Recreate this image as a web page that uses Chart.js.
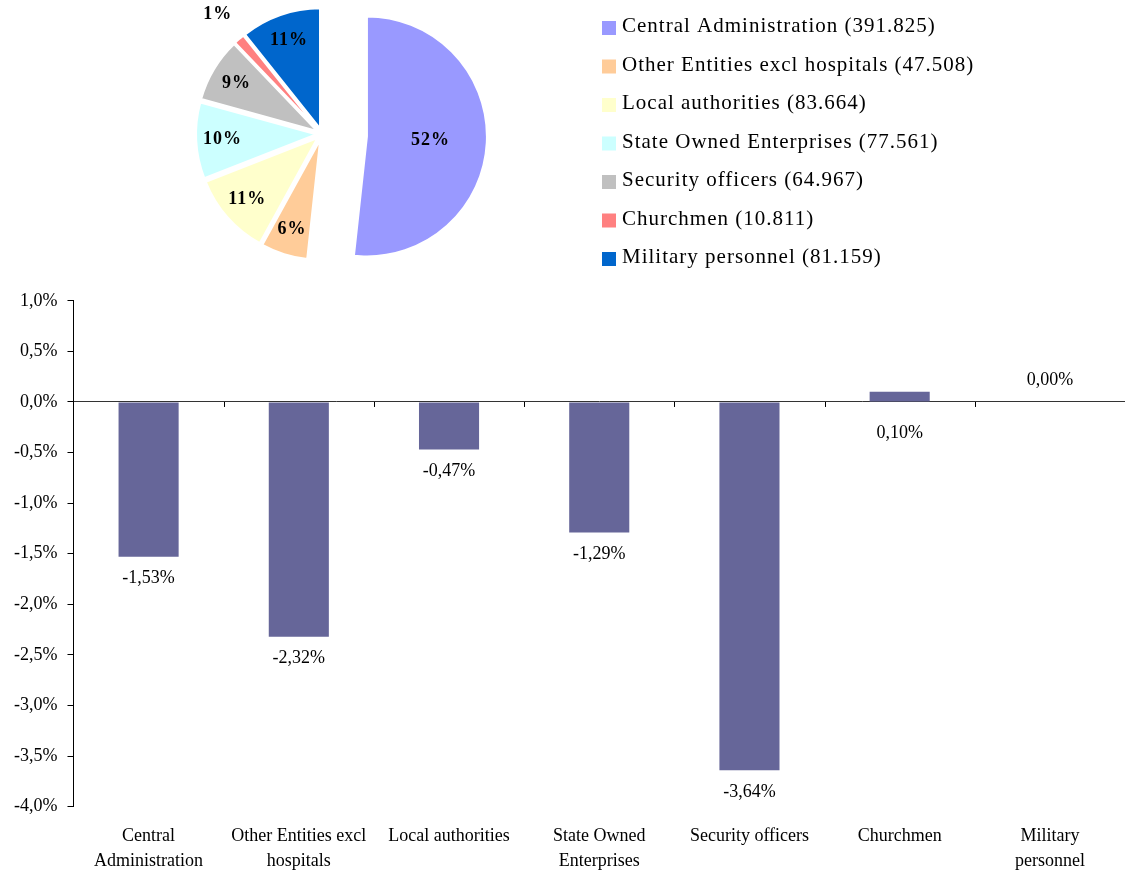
<!DOCTYPE html>
<html>
<head>
<meta charset="utf-8">
<script src="https://cdn.jsdelivr.net/npm/chart.js@4"></script>
<style>
  html, body { margin: 0; background: #fff; overflow: hidden; }
  #wrap { position: relative; width: 1125px; height: 872px; overflow: hidden; }
  canvas { position: absolute; left: 0; }
  #pie { top: 0; }
  #bars { top: 280px; }
</style>
</head>
<body>
<div id="wrap">
  <canvas id="pie" width="1125" height="272"></canvas>
  <canvas id="bars" width="1125" height="611"></canvas>
</div>
<script>
const categories = ['Central Administration', 'Other Entities excl hospitals', 'Local authorities', 'State Owned Enterprises', 'Security officers', 'Churchmen', 'Military personnel'];
const axisLabels = [['Central', 'Administration'], ['Other Entities excl', 'hospitals'], 'Local authorities', ['State Owned', 'Enterprises'], 'Security officers', 'Churchmen', ['Military', 'personnel']];
const employees = [391825, 47508, 83664, 77561, 64967, 10811, 81159];
const changePct = [-1.53, -2.32, -0.47, -1.29, -3.64, 0.10, 0.00];
const pieColors = ['#9999FF', '#FFCC99', '#FFFFCC', '#CCFFFF', '#C0C0C0', '#FF8080', '#0066CC'];

const serif = "'Liberation Serif', 'Times New Roman', serif";
const fmtThousands = n => String(n).replace(/\B(?=(\d{3})+(?!\d))/g, '.');
const total = employees.reduce((a, b) => a + b, 0);

// how far each slice is pulled out of the pie (px)
const explode = i => i === 0 ? 45 : 6;

// draw the slices ourselves so the pull-out does not grow the radius
const explodedPie = {
    id: 'explodedPie',
    beforeDatasetsDraw(chart) {
        const ctx = chart.ctx;
        chart.getDatasetMeta(0).data.forEach((arc, i) => {
            const mid = (arc.startAngle + arc.endAngle) / 2;
            ctx.save();
            ctx.translate(Math.cos(mid) * explode(i), Math.sin(mid) * explode(i));
            arc.draw(ctx);
            ctx.restore();
        });
        return false;
    },
    afterDraw(chart) {
        const ctx = chart.ctx;
        ctx.save();
        // percent labels
        ctx.font = 'bold 18px ' + serif;
        if ('letterSpacing' in ctx) ctx.letterSpacing = '1px';
        ctx.fillStyle = '#000';
        ctx.textAlign = 'center';
        ctx.textBaseline = 'middle';
        chart.getDatasetMeta(0).data.forEach((arc, i) => {
            const pct = employees[i] / total * 100;
            const mid = (arc.startAngle + arc.endAngle) / 2;
            const R = arc.outerRadius;
            const f = pct > 30 ? 0.53 : (pct < 3 ? 1.27 : 0.78);
            const d = explode(i) + R * f;
            ctx.fillText(Math.round(pct) + '%', arc.x + Math.cos(mid) * d, arc.y + Math.sin(mid) * d);
        });
        // legend
        ctx.font = '21px ' + serif;
        ctx.textBaseline = 'alphabetic';
        ctx.textAlign = 'left';
        categories.forEach((name, i) => {
            const y = 21 + i * 38.5;
            ctx.fillStyle = pieColors[i];
            ctx.fillRect(602, y, 14, 14);
            ctx.fillStyle = '#000';
            ctx.fillText(name + ' (' + fmtThousands(employees[i]) + ')', 622, y + 11);
        });
        ctx.restore();
    }
};

new Chart(document.getElementById('pie'), {
    type: 'pie',
    data: {
        labels: categories,
        datasets: [{
            data: employees,
            backgroundColor: pieColors,
            borderColor: '#fff',
            borderWidth: 2
        }]
    },
    options: {
        responsive: false,
        animation: false,
        radius: 120,
        layout: { padding: { left: 0, top: 0, right: 481, bottom: 4 } },
        plugins: {
            legend: { display: false },
            tooltip: { enabled: false }
        }
    },
    plugins: [explodedPie]
});

// value labels and category tick marks on the zero line
const barExtras = {
    id: 'barExtras',
    afterDatasetsDraw(chart) {
        const ctx = chart.ctx;
        const xs = chart.scales.x, ys = chart.scales.y;
        const y0 = ys.getPixelForValue(0);
        ctx.save();
        ctx.strokeStyle = '#000';
        ctx.lineWidth = 1;
        for (let i = 1; i < categories.length; i++) {
            const x = Math.round((xs.getPixelForValue(i - 1) + xs.getPixelForValue(i)) / 2) + 0.5;
            ctx.beginPath();
            ctx.moveTo(x, y0);
            ctx.lineTo(x, y0 + 5);
            ctx.stroke();
        }
        ctx.font = '18px ' + serif;
        ctx.fillStyle = '#000';
        ctx.textAlign = 'center';
        ctx.textBaseline = 'middle';
        chart.getDatasetMeta(0).data.forEach((bar, i) => {
            const v = changePct[i];
            const txt = v.toFixed(2).replace('.', ',') + '%';
            let y;
            if (v === 0) y = bar.base - 22;
            else if (v > 0) y = bar.base + 32;
            else y = bar.y + 22;
            ctx.fillText(txt, bar.x, y);
        });
        ctx.restore();
    }
};

new Chart(document.getElementById('bars'), {
    type: 'bar',
    data: {
        labels: axisLabels,
        datasets: [{
            data: changePct,
            backgroundColor: '#666699',
            barPercentage: 0.4,
            categoryPercentage: 1
        }]
    },
    options: {
        responsive: false,
        animation: false,
        layout: { padding: { left: 4, top: 20, right: 0, bottom: 0 } },
        plugins: {
            legend: { display: false },
            tooltip: { enabled: false }
        },
        scales: {
            x: {
                grid: { display: false, drawTicks: false },
                border: { display: false },
                ticks: {
                    color: '#000',
                    padding: 17,
                    maxRotation: 0,
                    autoSkip: false,
                    font: { family: serif, size: 18, lineHeight: 1.4 }
                }
            },
            y: {
                min: -4,
                max: 1,
                border: { display: true, color: '#000', width: 1 },
                grid: {
                    color: c => c.tick && c.tick.value === 0 ? '#333' : 'rgba(0,0,0,0)',
                    tickColor: '#000',
                    tickLength: 6,
                    lineWidth: 1
                },
                ticks: {
                    stepSize: 0.5,
                    color: '#000',
                    padding: 10,
                    font: { family: serif, size: 18 },
                    callback: v => v.toFixed(1).replace('.', ',') + '%'
                }
            }
        }
    },
    plugins: [barExtras]
});
</script>
</body>
</html>
